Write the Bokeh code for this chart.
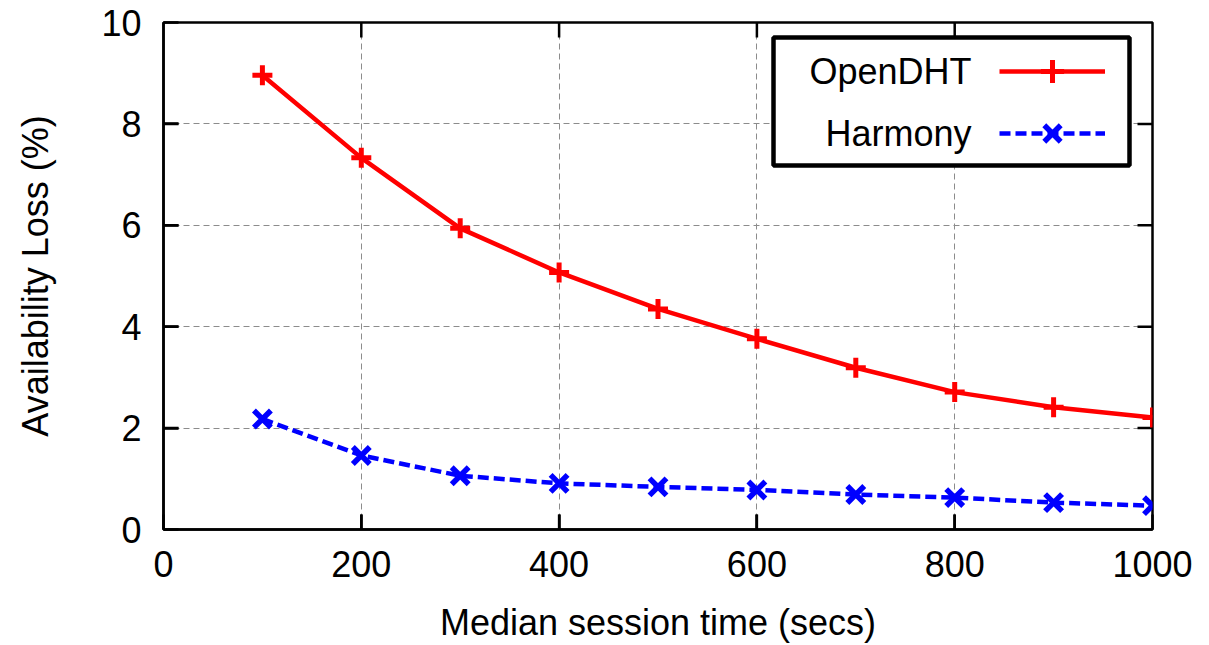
from bokeh.plotting import figure
from bokeh.models import (Legend, LegendItem, Label, BoxAnnotation,
                          FixedTicker, Range1d)
from bokeh.embed import file_html
from bokeh.resources import INLINE

# ---- data ----
session_time = [100, 200, 300, 400, 500, 600, 700, 800, 900, 1000]
opendht_loss = [8.96, 7.33, 5.94, 5.07, 4.35, 3.76, 3.19, 2.71, 2.41, 2.21]
harmony_loss = [2.18, 1.46, 1.06, 0.91, 0.84, 0.78, 0.69, 0.63, 0.53, 0.47]
series_names = ["OpenDHT", "Harmony"]
x_ticks = [0, 200, 400, 600, 800, 1000]
y_ticks = [0, 2, 4, 6, 8, 10]
x_label = "Median session time (secs)"
y_label = "Availability Loss (%)"

FONT = "Liberation Sans"
FS = "36px"
X0, X1, Y0, Y1 = 0, 1000, 0, 10
FRAME_W, FRAME_H = 989, 508
TICK_PX = 15

p = figure(width=1209, height=645, output_backend="svg", toolbar_location=None,
           x_range=Range1d(X0, X1), y_range=Range1d(Y0, Y1),
           min_border_left=163, min_border_right=57,
           min_border_top=22, min_border_bottom=115,
           x_axis_label=x_label, y_axis_label=y_label)

p.outline_line_color = "black"
p.outline_line_width = 2.5
p.outline_line_alpha = 1.0
p.background_fill_color = "white"
p.border_fill_color = "white"

for ax in (p.xaxis[0], p.yaxis[0]):
    ax.axis_line_width = 2.5
    ax.axis_line_color = "black"
    ax.major_tick_in = TICK_PX
    ax.major_tick_out = 0
    ax.minor_tick_in = 0
    ax.minor_tick_out = 0
    ax.major_tick_line_width = 2.5
    ax.major_label_text_font = FONT
    ax.major_label_text_font_size = FS
    ax.major_label_text_color = "black"
    ax.axis_label_text_font = FONT
    ax.axis_label_text_font_size = FS
    ax.axis_label_text_font_style = "normal"
    ax.axis_label_text_color = "black"

p.xaxis[0].ticker = FixedTicker(ticks=x_ticks)
p.yaxis[0].ticker = FixedTicker(ticks=y_ticks)
p.xaxis[0].major_label_standoff = 21
p.xaxis[0].axis_label_standoff = 22
p.yaxis[0].major_label_standoff = 22
p.yaxis[0].axis_label_standoff = 42

p.xgrid.ticker = FixedTicker(ticks=x_ticks)
p.ygrid.ticker = FixedTicker(ticks=y_ticks)
for g in (p.xgrid[0], p.ygrid[0]):
    g.grid_line_color = "#8c8c8c"
    g.grid_line_width = 1
    g.grid_line_dash = "6 4"

# ---- inward tick marks on all four borders (from the tick lists) ----
dy = TICK_PX * (Y1 - Y0) / FRAME_H
dx = TICK_PX * (X1 - X0) / FRAME_W
xt = x_ticks[1:-1]
yt = y_ticks[1:-1]
p.segment(x0=xt, y0=[Y0] * len(xt), x1=xt, y1=[Y0 + dy] * len(xt),
          line_color="black", line_width=2.5)
p.segment(x0=xt, y0=[Y1] * len(xt), x1=xt, y1=[Y1 - dy] * len(xt),
          line_color="black", line_width=2.5)
p.segment(x0=[X0] * len(yt), y0=yt, x1=[X0 + dx] * len(yt), y1=yt,
          line_color="black", line_width=2.5)
p.segment(x0=[X1] * len(yt), y0=yt, x1=[X1 - dx] * len(yt), y1=yt,
          line_color="black", line_width=2.5)

# ---- series ----
r1 = p.line(session_time, opendht_loss, line_color="#ff0000", line_width=4.5)
m1 = p.scatter(session_time, opendht_loss, marker="cross", size=20,
               line_color="#ff0000", line_width=5)
r2 = p.line(session_time, harmony_loss, line_color="#0000ff", line_width=4.5,
            line_dash="11 5")
m2 = p.scatter(session_time, harmony_loss, marker="x", size=24,
               line_color="#0000ff", line_width=5.5)

# ---- legend: framed box, labels on the left, samples on the right ----
box = BoxAnnotation(left=610, right=966, top=492, bottom=364,
                    left_units="screen", right_units="screen",
                    top_units="screen", bottom_units="screen",
                    fill_color="white", fill_alpha=1.0,
                    line_color="black", line_alpha=1.0, line_width=4.5)
p.add_layout(box)

legend = Legend(items=[LegendItem(label=" ", renderers=[r1, m1]),
                       LegendItem(label=" ", renderers=[r2, m2])],
                location=(836, 367), glyph_width=106, glyph_height=58,
                spacing=4, padding=0, margin=0, label_standoff=0,
                label_width=0, label_height=0, label_text_font_size="1px",
                border_line_alpha=0, background_fill_alpha=0)
p.add_layout(legend)

for name, ypos in zip(series_names, (458, 396)):
    p.add_layout(Label(x=808, y=ypos, x_units="screen", y_units="screen",
                       text=name, text_align="right", text_baseline="middle",
                       text_font=FONT, text_font_size=FS, text_color="black"))

open("out.html", "w").write(file_html(p, INLINE))
